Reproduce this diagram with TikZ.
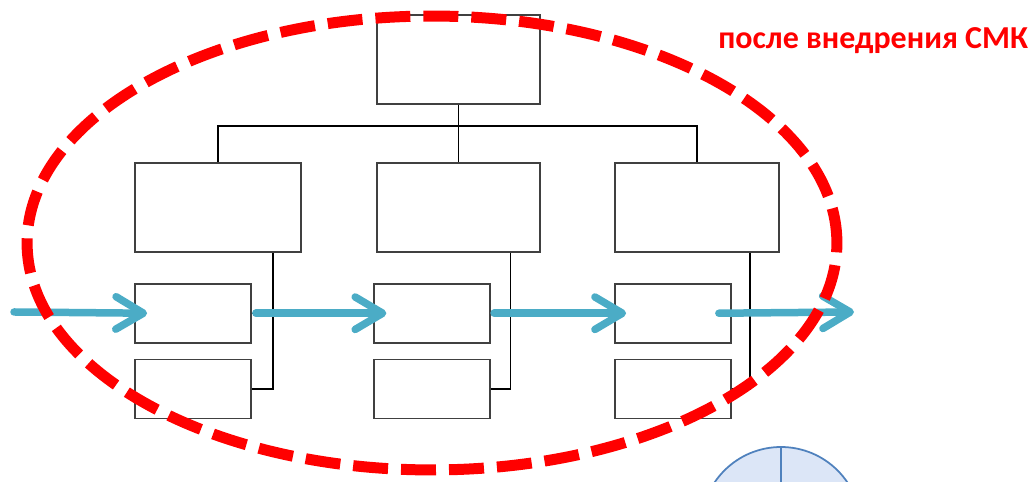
\documentclass[tikz,border=0pt]{standalone}
\usepackage{fontspec}
\newfontfamily\labelfont{Carlito}
\usetikzlibrary{positioning,arrows.meta}
\definecolor{flowblue}{HTML}{4BACC6}
\definecolor{pieblue}{HTML}{4F81BD}
\definecolor{piefill}{HTML}{DCE6F7}

\begin{document}
\begin{tikzpicture}[x=0.02cm, y=0.02cm]
        \tikzstyle{every node}=[draw=black!75, line width=1pt, inner sep=0pt]
        \tikzstyle{bigbox}=[minimum width=3.25cm, minimum height=1.78cm]
        \tikzstyle{smallbox}=[minimum width=2.32cm, minimum height=1.18cm]
        \tikzstyle{tree}=[black, line width=0.8pt]
        \tikzstyle{flow}=[flowblue, line width=0.15cm, line cap=round, line join=round,
            -{Straight Barb[length=0.55cm, width=0.65cm, round]}]
        \tikzstyle{ring}=[red, line width=0.22cm, dash pattern=on 0.7cm off 0.26cm]

        \path[use as bounding box] (0,0) rectangle (1035,482);

        \node (top)  [bigbox] at (458.5,422.5) {};
        \node (mid1) [bigbox, minimum width=3.32cm] at (218,274.5) {};
        \node (mid2) [bigbox] at (458.5,274.5) {};
        \node (mid3) [bigbox, minimum width=3.28cm] at (697,274.5) {};

        \node (s1a) [smallbox, below=0.6cm of mid1.south west, anchor=north west] {};
        \node (s1b) [smallbox, below=0.3cm of s1a] {};
        \node (s2a) [smallbox, below=0.6cm of mid2.south west, anchor=north west, xshift=-0.06cm] {};
        \node (s2b) [smallbox, below=0.3cm of s2a] {};
        \node (s3a) [smallbox, below=0.6cm of mid3.south west, anchor=north west] {};
        \node (s3b) [smallbox, below=0.3cm of s3a] {};

        \coordinate (bus) at (458.5,356);
        \coordinate (v1) at ([xshift=-0.58cm]mid1.south east);
        \coordinate (v2) at ([xshift=-0.6cm]mid2.south east);
        \coordinate (v3) at ([xshift=-0.6cm]mid3.south east);

        \draw[tree] (top) -- (mid2);
        \draw[tree] (mid1.north) |- (bus) -| (mid3.north);
        \draw[tree] (v1) |- (s1b.east);
        \draw[tree] (s1a.east) -- (s1a.east -| v1);
        \draw[tree] (v2) |- (s2b.east);
        \draw[tree] (s2a.east) -- (s2a.east -| v2);
        \draw[tree] (v3) |- (s3b.east);
        \draw[tree] (s3a.east) -- (s3a.east -| v3);

        \coordinate (in) at (14,170);
        \coordinate (out) at (854,170);
        \draw[flow] (in) -- ([xshift=0.26cm]s1a.west);
        \draw[flow] ([xshift=0.08cm]s1a.east) -- ([xshift=0.26cm]s2a.west);
        \draw[flow] ([xshift=0.06cm]s2a.east) -- ([xshift=0.24cm]s3a.west);
        \draw[flow] ([xshift=-0.26cm]s3a.east) -- (out);

        \node (pie) [circle, draw=pieblue, fill=piefill, minimum size=3.2cm] at (781,-45) {};
        \draw[pieblue, line width=1pt] (pie.center) -- (pie.north);

        \draw[ring] (432,239) ellipse [x radius=8.1cm, y radius=4.54cm];

        \node (title) [draw=none, text=red, anchor=east,
            font=\labelfont\bfseries\fontsize{18.2}{21}\selectfont] at (1029,441) {после внедрения СМК};
\end{tikzpicture}
\end{document}
